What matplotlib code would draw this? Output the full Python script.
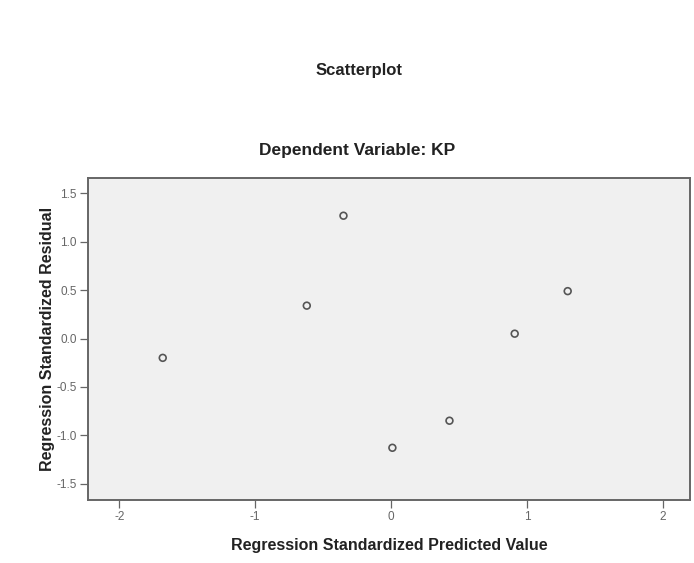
import matplotlib
matplotlib.use("Agg")
import matplotlib.pyplot as plt

# standardized predicted values and residuals
pred = [-1.68, -0.62, -0.35, 0.01, 0.43, 0.91, 1.30]
resid = [-0.20, 0.34, 1.27, -1.13, -0.85, 0.05, 0.49]
xticks = [-2, -1, 0, 1, 2]
yticks = [-1.5, -1.0, -0.5, 0.0, 0.5, 1.0, 1.5]

plt.rcParams['font.family'] = ['Liberation Sans', 'DejaVu Sans']

fig = plt.figure(figsize=(6.94, 5.63), dpi=100)
ax = fig.add_axes([88 / 694, 63 / 563, 602 / 694, 322 / 563])
ax.set_facecolor('#f0f0f0')

ax.scatter(pred, resid, s=24, facecolors='none', edgecolors='#555555', linewidths=1.2, zorder=3)

ax.set_xlim(-2.23, 2.20)
ax.set_ylim(-1.67, 1.66)
ax.set_xticks(xticks)
ax.set_xticklabels([str(t) for t in xticks])
ax.set_yticks(yticks)
ax.set_yticklabels(['%.1f' % t for t in yticks])
ax.tick_params(direction='out', length=6, width=0.9, colors='#666666', labelsize=8.5,
               labelcolor='#666666', pad=2)

for s in ax.spines.values():
    s.set_color('#666666')
    s.set_linewidth(1.4)

ax.set_xlabel('Regression Standardized Predicted Value', fontsize=11.5, fontweight='bold',
              color='#222222', labelpad=11)
ax.set_ylabel('Regression Standardized Residual', fontsize=11.5, fontweight='bold',
              color='#222222', labelpad=1)

fig.text(359 / 694, 1 - 71 / 563, 'Scatterplot', ha='center', va='center',
         fontsize=12, fontweight='bold', color='#222222')
fig.text(357 / 694, 1 - 150 / 563, 'Dependent Variable: KP', ha='center', va='center',
         fontsize=12.5, fontweight='bold', color='#222222')

fig.savefig('out.png', dpi=100)
